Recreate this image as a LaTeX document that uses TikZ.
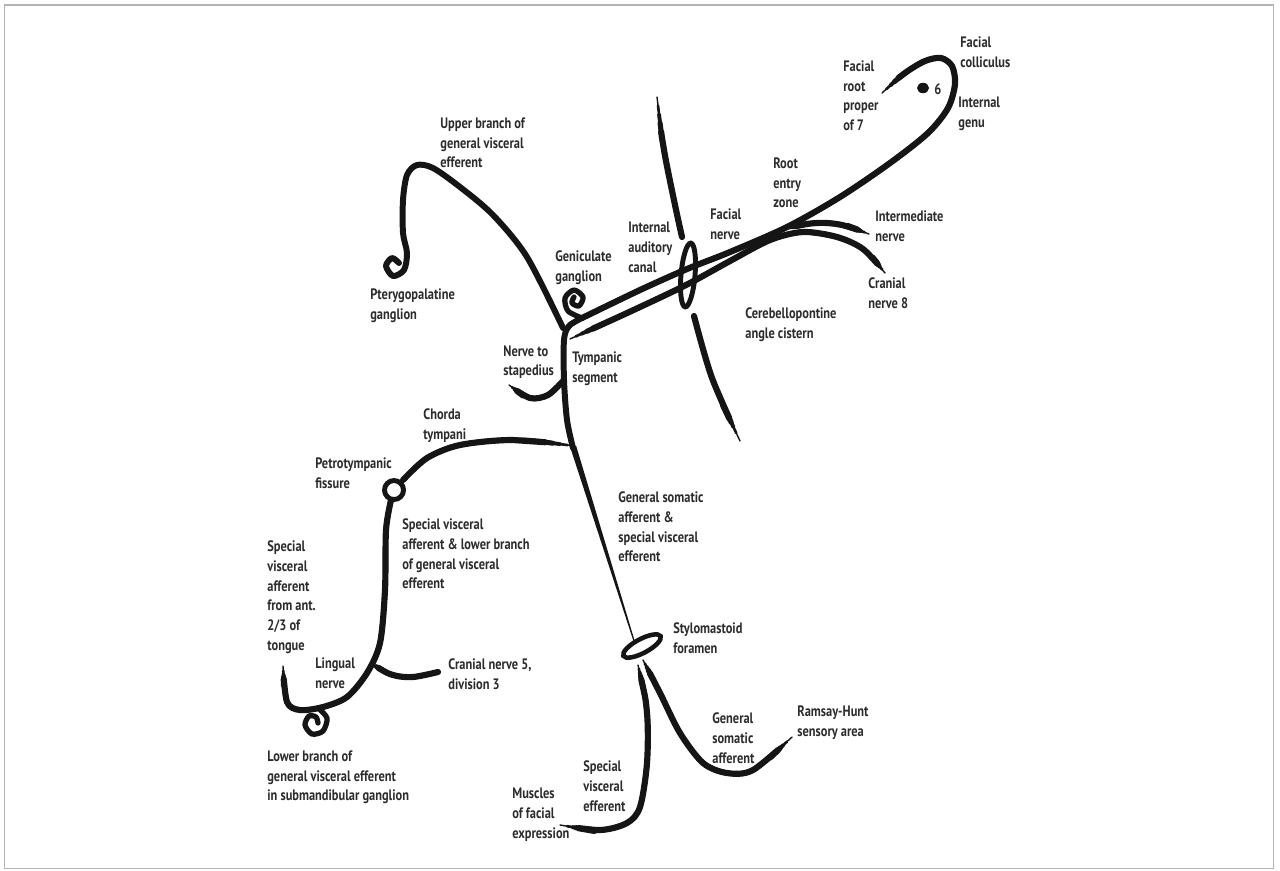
\documentclass[tikz,border=0pt]{standalone}
\usepackage{fontspec}
\setmainfont{PT Sans}[FakeStretch=0.82]

\definecolor{ink}{HTML}{151515}
\definecolor{labelgray}{HTML}{2C2C2C}
\definecolor{framegray}{HTML}{B4B4B4}

\begin{document}
\begin{tikzpicture}[x=0.02cm, y=-0.02cm]

    \tikzset{nerve/.style={%
      draw=ink,%
      line width=3.4pt,%
      line cap=round,%
      line join=round}%
    };

    % five passes, each one wider and shorter, give a brush taper
    \tikzset{brush/.style 2 args={%
      nerve,%
      line width=0.8pt,%
      postaction={draw=ink, line width=1.5pt, shorten <=0.25*#1, shorten >=0.25*#2},%
      postaction={draw=ink, line width=2.2pt, shorten <=0.5*#1, shorten >=0.5*#2},%
      postaction={draw=ink, line width=2.9pt, shorten <=0.75*#1, shorten >=0.75*#2},%
      postaction={draw=ink, line width=3.5pt, shorten <=#1, shorten >=#2}}%
    };

    \tikzset{ring/.style={draw=ink, line width=2.8pt}};

    \tikzset{lbl/.style={%
      anchor=north west,%
      inner sep=0pt,%
      align=left,%
      text=labelgray,%
      font=\bfseries\fontsize{8.6}{11.35}\selectfont}%
    };

    \useasboundingbox (0,0) rectangle (1280,870);
    \draw [framegray, line width=1.1pt] (4.5,5) rectangle (1273.5,868.5);

    %%%%%%%%%%%%%%%%%%%%%%%%%%%
    % root, canal and cistern %
    %%%%%%%%%%%%%%%%%%%%%%%%%%%
    \draw [brush={0.45cm}{0cm}] plot [smooth] coordinates {(882,93) (905,73) (925,61) (941,58) (952,66) (955,84) (948,108) (928,133) (890,163) (840,197) (787,227) (730,252) (687,269) (640,290) (582,318)};

    \draw [brush={0.5cm}{0.4cm}] plot [smooth] coordinates {(570,339) (640,307) (688,284) (730,261) (770,240) (803,232) (837,237) (863,249) (885,273)};

    \draw [brush={0.3cm}{0.45cm}] plot [smooth] coordinates {(782,229) (817,223) (842,225) (869,234)};

    \draw [brush={0.7cm}{0cm}] plot [smooth] coordinates {(657,97) (664,150) (675,205) (682,237)};
    \draw [brush={0cm}{0.8cm}] plot [smooth] coordinates {(694,316) (712,378) (740,441)};
    \draw [ring, rotate around={-5:(688,275)}] (688,275) ellipse [x radius=7, y radius=32];

    \fill [ink] (923,88) ellipse [x radius=6, y radius=5.2];

    %%%%%%%%%%%%%%%%%%%%%%%%%%%
    % geniculate and tympanic %
    %%%%%%%%%%%%%%%%%%%%%%%%%%%
    \draw [nerve, line width=3pt] plot [smooth] coordinates {(582,318) (568,311) (565,298) (574,290) (583,297) (579,306) (572,303) (574,297)};

    \draw [nerve] plot [smooth] coordinates {(563,328) (527,257) (493,215) (460,187) (433,168) (417,165) (407,175) (403,200) (403,233) (407,253) (404,270) (393,276) (386,266) (392,258) (399,263)};

    \draw [nerve] plot [smooth] coordinates {(582,318) (569,326) (564,340) (564,380) (567,420) (573,448)};
    \fill [ink] (569.8,446) -- (576.2,446) -- (635.6,644) -- (634.4,644) -- cycle;

    \draw [brush={0cm}{0.35cm}] plot [smooth] coordinates {(564,380) (548,395) (530,398) (509,385)};

    %%%%%%%%%%%%%%%%%%%%%%%%%%%%
    % chorda and lingual nerve %
    %%%%%%%%%%%%%%%%%%%%%%%%%%%%
    \draw [brush={0.6cm}{0cm}] plot [smooth] coordinates {(575,446) (513,440) (460,445) (427,458) (403,480)};
    \draw [ring] (394,490) circle [radius=9.5];

    \draw [brush={0cm}{0.4cm}] plot [smooth] coordinates {(391,500) (386,530) (385,590) (380,643) (367,673) (347,697) (323,707) (300,710) (287,702) (283,666)};

    \draw [brush={0.15cm}{0cm}] plot [smooth] coordinates {(372,664) (393,675) (413,677) (438,672)};

    \draw [nerve, line width=3pt] plot [smooth] coordinates {(318,708) (327,718) (323,731) (312,734) (305,725) (309,716) (316,717) (318,723)};

    %%%%%%%%%%%%%%%%%%%%%
    % stylomastoid exit %
    %%%%%%%%%%%%%%%%%%%%%
    \draw [ring, line width=2.6pt, rotate around={28:(642,646)}] (642,646) ellipse [x radius=21, y radius=7];

    \draw [brush={0.3cm}{0.7cm}] plot [smooth] coordinates {(638,665) (647,713) (647,763) (640,807) (627,823) (600,830) (560,825)};

    \draw [brush={0.3cm}{0.6cm}] plot [smooth] coordinates {(643,660) (660,693) (680,733) (703,763) (727,773) (753,770) (792,737)};

    %%%%%%%%%%
    % labels %
    %%%%%%%%%%
    \path (960,36) node [lbl] (colliculus) {Facial\\colliculus};
    \path (843,60) node [lbl] (rootproper) {Facial\\root\\proper\\of 7};
    \path (958,97) node [lbl] (genu) {Internal\\genu};
    \path (934,89) node [lbl, anchor=west] (abducens) {6};
    \path (440,117) node [lbl] (upperbranch) {Upper branch of\\general visceral\\efferent};
    \path (370,288) node [lbl] (pterygo) {Pterygopalatine\\ganglion};
    \path (555,250) node [lbl] (geniculate) {Geniculate\\ganglion};
    \path (628,222) node [lbl] (canal) {Internal\\auditory\\canal};
    \path (710,208) node [lbl] (facialnerve) {Facial\\nerve};
    \path (773,157) node [lbl] (entryzone) {Root\\entry\\zone};
    \path (875,210) node [lbl] (intermediate) {Intermediate\\nerve};
    \path (868,277) node [lbl] (eighth) {Cranial\\nerve 8};
    \path (745,307) node [lbl] (cistern) {Cerebellopontine\\angle cistern};
    \path (503,345) node [lbl] (stapedius) {Nerve to\\stapedius};
    \path (572,351) node [lbl] (tympanic) {Tympanic\\segment};
    \path (423,408) node [lbl] (chorda) {Chorda\\tympani};
    \path (315,457) node [lbl] (fissure) {Petrotympanic\\fissure};
    \path (402,518) node [lbl] (svagve) {Special visceral\\afferent \& lower branch\\of general visceral\\efferent};
    \path (267,540) node [lbl] (tongue) {Special\\visceral\\afferent\\from ant.\\2/3 of\\tongue};
    \path (315,657) node [lbl] (lingual) {Lingual\\nerve};
    \path (448,658) node [lbl] (fifth) {Cranial nerve 5,\\division 3};
    \path (267,750) node [lbl] (submandibular) {Lower branch of\\general visceral efferent\\in submandibular ganglion};
    \path (618,491) node [lbl] (gsasve) {General somatic\\afferent \&\\special visceral\\efferent};
    \path (673,622) node [lbl] (foramen) {Stylomastoid\\foramen};
    \path (712,712) node [lbl] (gsa) {General\\somatic\\afferent};
    \path (797,705) node [lbl] (ramsay) {Ramsay-Hunt\\sensory area};
    \path (583,760) node [lbl] (sve) {Special\\visceral\\efferent};
    \path (512,788) node [lbl] (muscles) {Muscles\\of facial\\expression};

\end{tikzpicture}
\end{document}
